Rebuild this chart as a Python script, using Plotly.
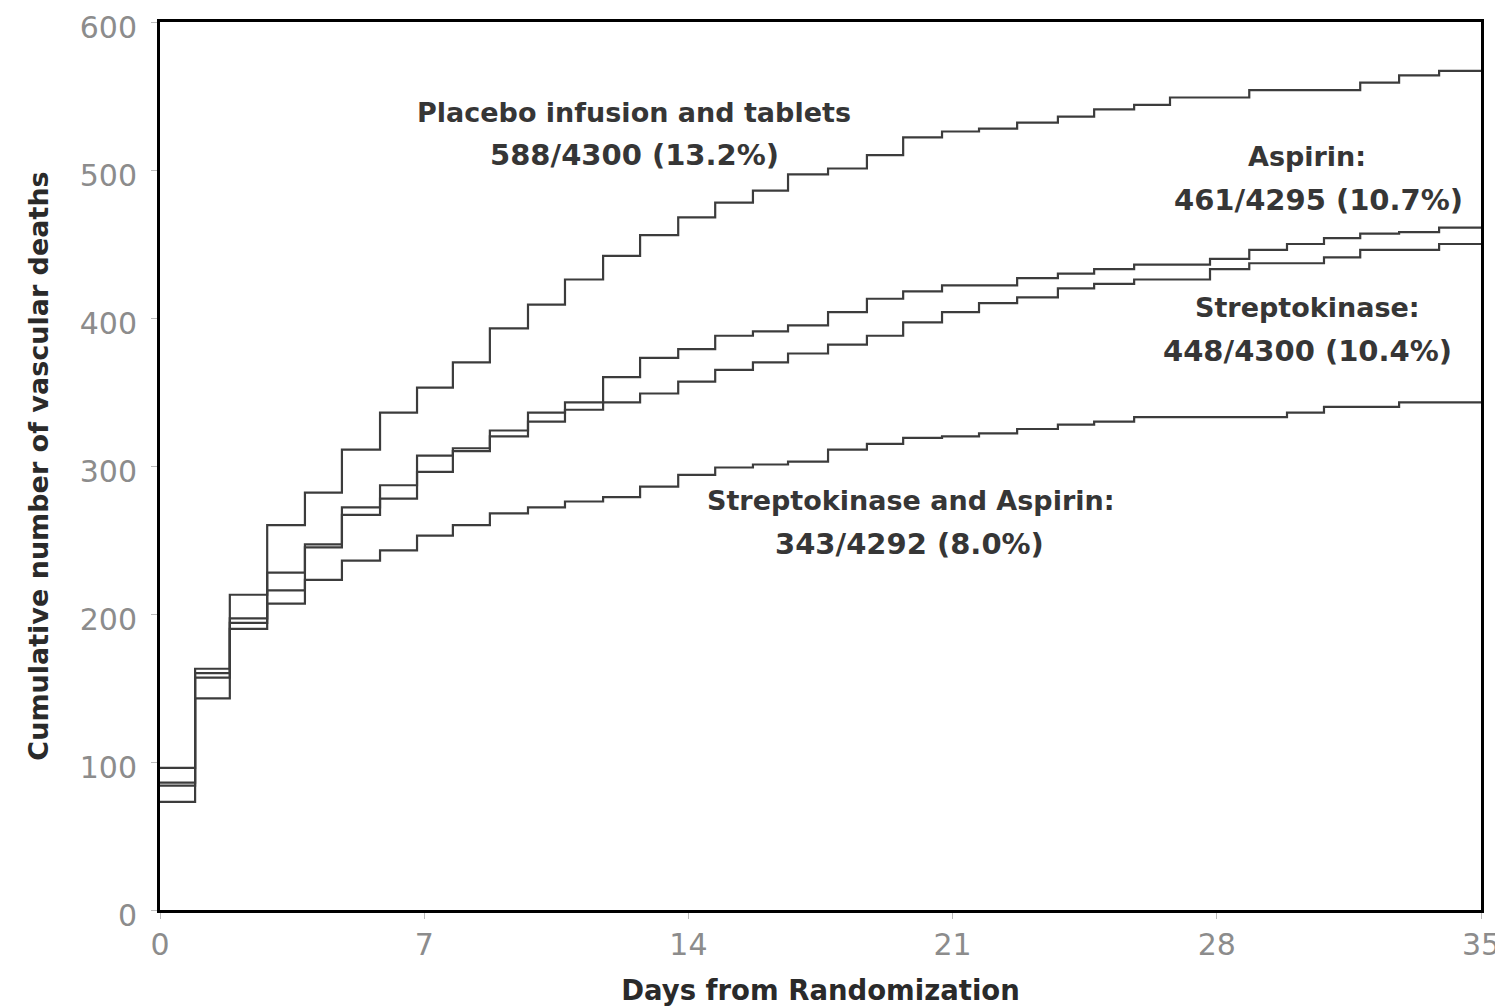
import plotly.graph_objects as go

# Step start days and end of follow-up
step_days = [0, 0.93, 1.85, 2.84, 3.84, 4.82, 5.83, 6.81, 7.76, 8.74, 9.75, 10.73,
             11.74, 12.72, 13.73, 14.71, 15.71, 16.64, 17.70, 18.73, 19.69, 20.72,
             21.70, 22.71, 23.79, 24.75, 25.81, 26.76, 27.82, 28.86, 29.86, 30.84,
             31.80, 32.83, 33.89]
end_day = 35

placebo = [96, 163, 213, 260, 282, 311, 336, 353, 370, 393, 409, 426, 442, 456, 468,
           478, 486, 497, 501, 510, 522, 526, 528, 532, 536, 541, 544, 549, 549, 554,
           554, 554, 559, 564, 567]
aspirin = [86, 160, 197, 228, 247, 272, 287, 307, 312, 324, 336, 343, 360, 373, 379,
           388, 391, 395, 404, 413, 418, 422, 422, 427, 430, 433, 436, 436, 440, 446,
           450, 454, 457, 458, 461]
streptokinase = [84, 157, 194, 216, 245, 267, 278, 296, 310, 320, 330, 338, 343, 349, 357,
                 365, 370, 376, 382, 388, 397, 404, 410, 414, 420, 423, 426, 426, 433, 437,
                 437, 441, 446, 446, 450]
sk_aspirin = [73, 143, 190, 207, 223, 236, 243, 253, 260, 268, 272, 276, 279, 286, 294,
              299, 301, 303, 311, 315, 319, 320, 322, 325, 328, 330, 333, 333, 333, 333,
              336, 340, 340, 343, 343]

series = [
    ("Placebo infusion and tablets", placebo),
    ("Aspirin", aspirin),
    ("Streptokinase", streptokinase),
    ("Streptokinase and Aspirin", sk_aspirin),
]

x_ticks = [0, 7, 14, 21, 28, 35]
y_ticks = [0, 100, 200, 300, 400, 500, 600]

# label text lines: (text, day, deaths, font size)
labels = [
    ("Placebo infusion and tablets", 12.56, 539, 27),
    ("588/4300 (13.2%)", 12.56, 510, 29),
    ("Aspirin:", 30.4, 509, 27),
    ("461/4295 (10.7%)", 30.7, 480, 29),
    ("Streptokinase:", 30.4, 407, 27),
    ("448/4300 (10.4%)", 30.4, 378, 29),
    ("Streptokinase and Aspirin:", 19.9, 277, 27),
    ("343/4292 (8.0%)", 19.85, 247, 29),
]

fig = go.Figure()
for name, vals in series:
    fig.add_trace(go.Scatter(
        x=step_days + [end_day], y=vals + [vals[-1]],
        mode="lines", line=dict(shape="hv", color="#3c3c3c", width=2.2),
        name=name, showlegend=False, hoverinfo="skip"))

for text, xd, yv, fs in labels:
    fig.add_annotation(x=xd, y=yv, text="<b>" + text + "</b>", showarrow=False,
                       font=dict(family="DejaVu Sans", size=fs, color="#363636"),
                       xanchor="center", yanchor="middle")

fig.update_layout(
    width=1503, height=1007,
    margin=dict(l=152, r=30, t=14, b=105),
    paper_bgcolor="white", plot_bgcolor="white",
    font=dict(family="DejaVu Sans"),
)
fig.update_xaxes(
    range=[0, 35], tickvals=x_ticks, ticktext=[str(v) for v in x_ticks],
    showgrid=False, zeroline=False, automargin=False, ticklabeloverflow="allow",
    showline=True, linecolor="black", linewidth=3, mirror=True,
    ticks="outside", ticklen=6, tickcolor="#bbbbbb",
    tickfont=dict(family="DejaVu Sans", size=30, color="#8c8c8c"),
    title=dict(text="<b>Days from Randomization</b>",
               font=dict(family="DejaVu Sans", size=27.5, color="#2a2a2a"), standoff=20),
)
fig.update_yaxes(
    range=[0, 600], tickvals=y_ticks, ticktext=[str(v) for v in y_ticks],
    showgrid=False, zeroline=False, automargin=False, ticklabeloverflow="allow",
    showline=True, linecolor="black", linewidth=3, mirror=True,
    ticks="outside", ticklen=6, tickcolor="#bbbbbb", ticklabelstandoff=8,
    ticklabelshift=5,
    tickfont=dict(family="DejaVu Sans", size=30, color="#8c8c8c"),
    title=dict(text="<b>Cumulative number of vascular deaths</b>",
               font=dict(family="DejaVu Sans", size=27, color="#2a2a2a"), standoff=24),
)

fig.write_html("out.html")
